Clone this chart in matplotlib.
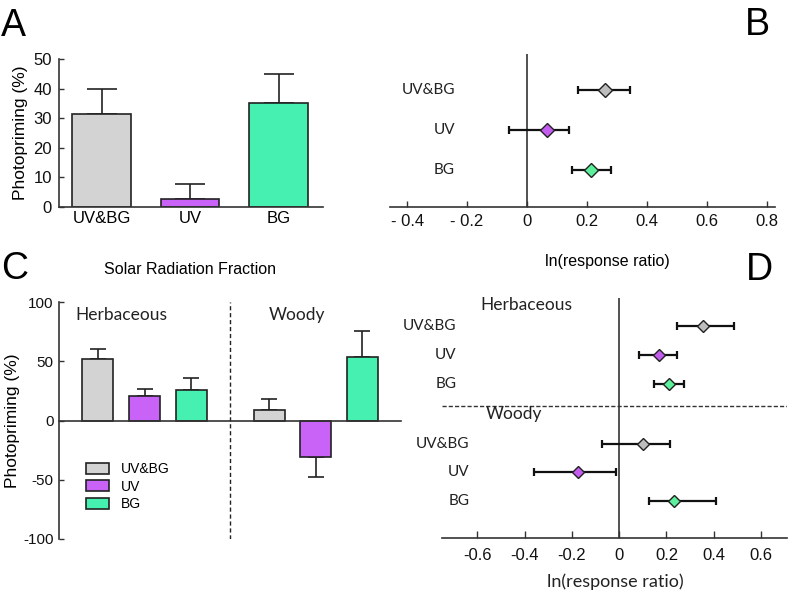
import numpy as np
import matplotlib
matplotlib.use("Agg")
import matplotlib.pyplot as plt
from matplotlib.patches import Patch

# ---------------- data ----------------
A_cats = ["UV&BG", "UV", "BG"]
A_vals = [31.5, 2.6, 35.0]
A_err = [8.2, 5.3, 9.8]

B_cats = ["UV&BG", "UV", "BG"]
B_mean = [0.26, 0.065, 0.213]
B_lo = [0.17, -0.06, 0.15]
B_hi = [0.345, 0.14, 0.28]
B_ticks = [-0.4, -0.2, 0, 0.2, 0.4, 0.6, 0.8]
B_ticklabels = ["- 0.4", "- 0.2", "0", "0.2", "0.4", "0.6", "0.8"]

C_groups = ["Herbaceous", "Woody"]
C_cats = ["UV&BG", "UV", "BG"]
C_herb = [52.0, 20.5, 25.5]
C_herb_err = [8.5, 6.2, 10.2]
C_woody = [9.3, -30.8, 53.3]
C_woody_err = [9.0, 17.2, 22.5]

D_cats = ["UV&BG", "UV", "BG"]
D_herb_mean = [0.354, 0.167, 0.21]
D_herb_lo = [0.245, 0.082, 0.149]
D_herb_hi = [0.486, 0.245, 0.272]
D_woody_mean = [0.102, -0.173, 0.23]
D_woody_lo = [-0.071, -0.362, 0.125]
D_woody_hi = [0.216, -0.014, 0.41]
D_ticks = [-0.6, -0.4, -0.2, 0, 0.2, 0.4, 0.6]
D_ticklabels = ["-0.6", "-0.4", "-0.2", "0", "0.2", "0.4", "0.6"]

# ---------------- style ----------------
W, H, DPI = 789, 594, 100
ARIAL = "Liberation Sans"
CALI = "Lato"
bar_colors = ["#d3d3d3", "#c962f7", "#45f0b0"]
dia_colors = ["#bdbdbd", "#c45cf0", "#5cf09c"]
SPINE = "#333333"

plt.rcParams["font.family"] = ARIAL
plt.rcParams["axes.unicode_minus"] = False
fig = plt.figure(figsize=(W / DPI, H / DPI), dpi=DPI)


def box(x0, y0, x1, y1):
    return [x0 / W, 1 - y1 / H, (x1 - x0) / W, (y1 - y0) / H]


def ftext(px, py, s, **kw):
    fig.text(px / W, 1 - py / H, s, **kw)


# ---------------- panel A ----------------
axA = fig.add_axes(box(59, 59, 323, 207))
xa = np.arange(len(A_cats))
axA.errorbar(xa, A_vals, yerr=[np.zeros(len(A_err)), A_err], fmt="none",
             ecolor="#222222", elinewidth=1.2, capsize=10.5, capthick=1.2, zorder=1)
axA.bar(xa, A_vals, width=0.66, color=bar_colors, edgecolor="#222222",
        linewidth=1.2, zorder=2)
axA.set_xlim(-0.48, 2.5)
axA.set_ylim(0, 50)
axA.set_yticks([0, 10, 20, 30, 40, 50])
axA.set_xticks(xa)
axA.set_xticklabels(A_cats, fontsize=12)
axA.tick_params(axis="x", length=0, pad=3)
axA.tick_params(axis="y", direction="in", length=3.5, width=1, labelsize=12,
                pad=5, colors=SPINE, labelcolor="#111111")
for s in ["top", "right"]:
    axA.spines[s].set_visible(False)
for s in ["left", "bottom"]:
    axA.spines[s].set_color(SPINE)
    axA.spines[s].set_linewidth(1.2)
axA.set_ylabel("Photopriming (%)", fontsize=12.5, labelpad=4)

# ---------------- panel B ----------------
axB = fig.add_axes(box(390, 54, 775, 207))
yb = np.arange(len(B_cats), 0, -1)
B_mean_a = np.array(B_mean)
B_xerr = [B_mean_a - np.array(B_lo), np.array(B_hi) - B_mean_a]
axB.axvline(0, color=SPINE, lw=1.2, zorder=1)
axB.errorbar(B_mean, yb, xerr=B_xerr, fmt="none", ecolor="#111111",
             elinewidth=1.6, capsize=2.6, capthick=1.6, zorder=2)
for x, y, c in zip(B_mean, yb, dia_colors):
    axB.plot(x, y, marker="D", ms=7.5, mfc=c, mec="#222222", mew=1.0,
             linestyle="none", zorder=3)
for y, lab in zip(yb, B_cats):
    axB.text(-0.24, y, lab, ha="right", va="center", fontsize=11,
             family=CALI, color="#222222")
axB.set_xlim(-0.457, 0.827)
axB.set_ylim(0.075, 3.9)
axB.set_yticks([])
axB.set_xticks(B_ticks)
axB.set_xticklabels(B_ticklabels, fontsize=12)
axB.tick_params(axis="x", direction="in", length=4, width=1, pad=5,
                colors=SPINE, labelcolor="#111111")
for s in ["top", "right", "left"]:
    axB.spines[s].set_visible(False)
axB.spines["bottom"].set_color(SPINE)
axB.spines["bottom"].set_linewidth(1.2)
ftext(607, 266, "ln(response ratio)", ha="center", va="baseline", fontsize=11.5)

# ---------------- panel C ----------------
axC = fig.add_axes(box(59, 302.3, 400.7, 538.7))
xh = np.arange(len(C_cats))
xw = np.arange(len(C_cats)) + 3.67
for xs, vals, errs in [(xh, C_herb, C_herb_err), (xw, C_woody, C_woody_err)]:
    vals = np.array(vals)
    errs = np.array(errs)
    up = np.where(vals >= 0, errs, 0)
    dn = np.where(vals < 0, errs, 0)
    axC.errorbar(xs, vals, yerr=[dn, up], fmt="none", ecolor="#222222",
                 elinewidth=1.2, capsize=5.6, capthick=1.2, zorder=1)
    axC.bar(xs, vals, width=0.665, color=bar_colors, edgecolor="#222222",
            linewidth=1.2, zorder=2)
axC.axvline((xh[-1] + xw[0]) / 2, color="#222222", lw=1.0,
            linestyle=(0, (3, 2)), zorder=0)
axC.set_xlim(-0.833, 6.49)
axC.set_ylim(-100, 100)
axC.set_yticks([-100, -50, 0, 50, 100])
axC.set_xticks([])
axC.spines["bottom"].set_position(("data", 0))
for s in ["top", "right"]:
    axC.spines[s].set_visible(False)
for s in ["left", "bottom"]:
    axC.spines[s].set_color(SPINE)
    axC.spines[s].set_linewidth(1.2)
axC.tick_params(axis="y", direction="in", length=3.5, width=1, labelsize=11,
                pad=4, colors=SPINE, labelcolor="#111111")
axC.set_ylabel("Photopriming (%)", fontsize=12.5, labelpad=2)
handles = [Patch(facecolor=c, edgecolor="#222222", linewidth=1.2) for c in bar_colors]
axC.legend(handles, C_cats, loc="upper left", bbox_to_anchor=(0.08, 0.324),
           frameon=False, fontsize=10, handlelength=1.6, handleheight=0.85,
           labelspacing=0.25, handletextpad=0.9, borderpad=0, borderaxespad=0)
ftext(190.5, 274, "Solar Radiation Fraction", ha="center", va="baseline",
      fontsize=11.5)
ftext(75.7, 320, C_groups[0], ha="left", va="baseline", fontsize=12.5,
      family=CALI, color="#222222")
ftext(268.7, 320, C_groups[1], ha="left", va="baseline", fontsize=12.5,
      family=CALI, color="#222222")

# ---------------- panel D ----------------
axD = fig.add_axes(box(442, 298, 787, 538.3))
yw = np.arange(len(D_cats), 0, -1).astype(float)
yh = yw + 4.1
sep = 4.32
axD.axvline(0, color=SPINE, lw=1.2, zorder=1)
axD.axhline(sep, color="#333333", lw=1.0, linestyle=(0, (3, 1.5)), zorder=1)
for ys, m, lo, hi in [(yh, D_herb_mean, D_herb_lo, D_herb_hi),
                      (yw, D_woody_mean, D_woody_lo, D_woody_hi)]:
    m = np.array(m)
    xerr = [m - np.array(lo), np.array(hi) - m]
    axD.errorbar(m, ys, xerr=xerr, fmt="none", ecolor="#111111",
                 elinewidth=1.6, capsize=2.6, capthick=1.6, zorder=2)
    for x, y, c in zip(m, ys, dia_colors):
        axD.plot(x, y, marker="D", ms=6.2, mfc=c, mec="#222222", mew=1.0,
                 linestyle="none", zorder=3)
for y, lab in zip(yh, D_cats):
    axD.text(-0.69, y, lab, ha="right", va="center", fontsize=11,
             family=CALI, color="#222222")
for y, lab in zip(yw, D_cats):
    axD.text(-0.634, y, lab, ha="right", va="center", fontsize=11,
             family=CALI, color="#222222")
axD.text(-0.589, 7.83, C_groups[0], ha="left", va="center", fontsize=12.5,
         family=CALI, color="#222222")
axD.text(-0.565, 4.05, C_groups[1], ha="left", va="center", fontsize=12.5,
         family=CALI, color="#222222")
axD.set_xlim(-0.75, 0.71)
axD.set_ylim(-0.3, 8.09)
axD.set_yticks([])
axD.set_xticks(D_ticks)
axD.set_xticklabels(D_ticklabels, fontsize=12)
axD.tick_params(axis="x", direction="in", length=5, width=1, pad=7,
                colors=SPINE, labelcolor="#111111")
for s in ["top", "right", "left"]:
    axD.spines[s].set_visible(False)
axD.spines["bottom"].set_color(SPINE)
axD.spines["bottom"].set_linewidth(1.2)
ftext(615, 587, "ln(response ratio)", ha="center", va="baseline",
      fontsize=13, family=CALI, color="#222222")

# ---------------- panel letters ----------------
ftext(1, 36, "A", ha="left", va="baseline", fontsize=27)
ftext(745, 35, "B", ha="left", va="baseline", fontsize=27)
ftext(1, 279, "C", ha="left", va="baseline", fontsize=27)
ftext(746, 280.5, "D", ha="left", va="baseline", fontsize=27)

fig.savefig("out.png", dpi=DPI)
